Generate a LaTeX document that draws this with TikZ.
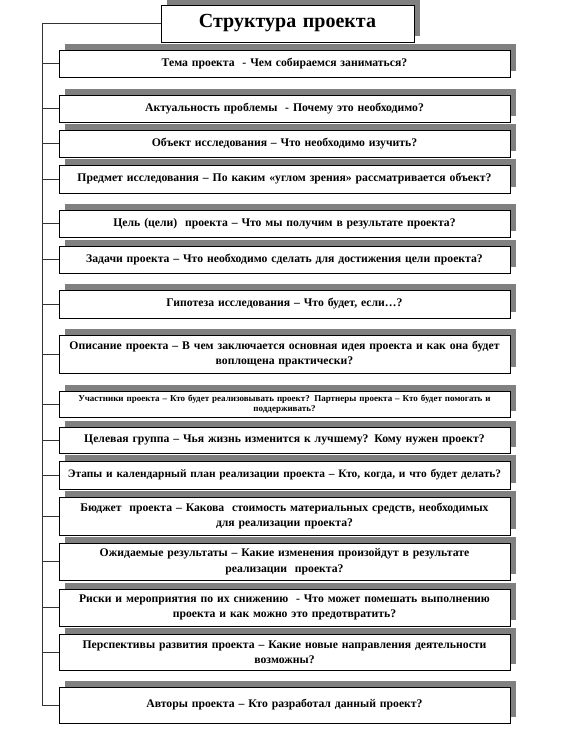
\documentclass[tikz,border=0pt]{standalone}
\usepackage{fontspec}
\setmainfont{Liberation Serif}
\usetikzlibrary{shadows}

\begin{document}
\begin{tikzpicture}[
x=1pt, y=-1pt,
part/.style={rectangle, draw=black, line width=1pt, fill=white,
  drop shadow={shadow xshift=6pt, shadow yshift=6pt, fill=black!50, opacity=1},
  text width=448pt, inner xsep=1.5pt, inner ysep=2pt, align=center,
  font=\fontsize{11.7}{15.5}\selectfont\bfseries},
head/.style={part, text width=250pt, font=\fontsize{20}{24}\selectfont\bfseries},
link/.style={draw=black!80, line width=0.8pt}
]
\useasboundingbox (0,0) rectangle (574,732);
\coordinate (bus) at (42,0);

\node[head, minimum height=37pt] (title) at (287.5,23.5) {Структура проекта};

\node[part, minimum height=27pt] (tema) at (284.5,63.5)
  {Тема проекта\ \ - Чем собираемся заниматься?};
\node[part, minimum height=27pt] (aktual) at (284.5,108.5)
  {Актуальность проблемы\ \ - Почему это необходимо?};
\node[part, minimum height=27pt] (obj) at (284.5,143.5)
  {Объект исследования – Что необходимо изучить?};
\node[part, minimum height=28pt] (predmet) at (284.5,179)
  {Предмет исследования – По каким «углом зрения» рассматривается объект?};
\node[part, minimum height=27pt] (cel) at (284.5,223.5)
  {Цель (цели)\ \ проекта – Что мы получим в результате проекта?};
\node[part, minimum height=27pt] (zadachi) at (284.5,259.5)
  {Задачи проекта – Что необходимо сделать для достижения цели проекта?};
\node[part, minimum height=28pt] (gipoteza) at (284.5,304)
  {Гипотеза исследования – Что будет, если…?};
\node[part, minimum height=38pt] (opisanie) at (284.5,354)
  {Описание проекта – В чем заключается основная идея проекта и как она будет\\ воплощена практически?};
\node[part, minimum height=26pt, font=\fontsize{9}{9.5}\selectfont\bfseries] (uchastniki) at (284.5,404)
  {Участники проекта – Кто будет реализовывать проект? Партнеры проекта – Кто будет помогать и\\ поддерживать?};
\node[part, minimum height=26pt] (gruppa) at (284.5,440)
  {Целевая группа – Чья жизнь изменится к лучшему? Кому нужен проект?};
\node[part, minimum height=28pt, font=\fontsize{11.4}{14}\selectfont\bfseries] (etapy) at (284.5,475)
  {Этапы и календарный план реализации проекта – Кто, когда, и что будет делать?};
\node[part, minimum height=38pt] (budget) at (284.5,516)
  {Бюджет\ \ проекта – Какова\ \ стоимость материальных средств, необходимых\\ для реализации проекта?};
\node[part, minimum height=37pt] (results) at (284.5,561.5)
  {Ожидаемые результаты – Какие изменения произойдут в результате\\ реализации\ \ проекта?};
\node[part, minimum height=37pt] (riski) at (284.5,607.5)
  {Риски\ и мероприятия по их снижению\ \ - Что может помешать выполнению\\ проекта и как можно это предотвратить?};
\node[part, minimum height=36pt] (perspektivy) at (284.5,652)
  {Перспективы развития проекта – Какие новые направления деятельности\\ возможны?};
\node[part, minimum height=36pt] (avtory) at (284.5,705)
  {Авторы проекта – Кто разработал данный проект?};

% left bus
\draw[link] (title.west) -| (bus |- avtory.west) -- (avtory.west);
\draw[link] (bus |- tema.west) -- (tema.west);
\draw[link] (bus |- aktual.west) -- (aktual.west);
\draw[link] (bus |- obj.west) -- (obj.west);
\draw[link] (bus |- predmet.west) -- (predmet.west);
\draw[link] (bus |- cel.west) -- (cel.west);
\draw[link] (bus |- zadachi.west) -- (zadachi.west);
\draw[link] (bus |- gipoteza.west) -- (gipoteza.west);
\draw[link] (bus |- opisanie.west) -- (opisanie.west);
\draw[link] (bus |- uchastniki.west) -- (uchastniki.west);
\draw[link] (bus |- gruppa.west) -- (gruppa.west);
\draw[link] (bus |- etapy.west) -- (etapy.west);
\draw[link] (bus |- budget.west) -- (budget.west);
\draw[link] (bus |- results.west) -- (results.west);
\draw[link] (bus |- riski.west) -- (riski.west);
\draw[link] (bus |- perspektivy.west) -- (perspektivy.west);
\end{tikzpicture}
\end{document}
